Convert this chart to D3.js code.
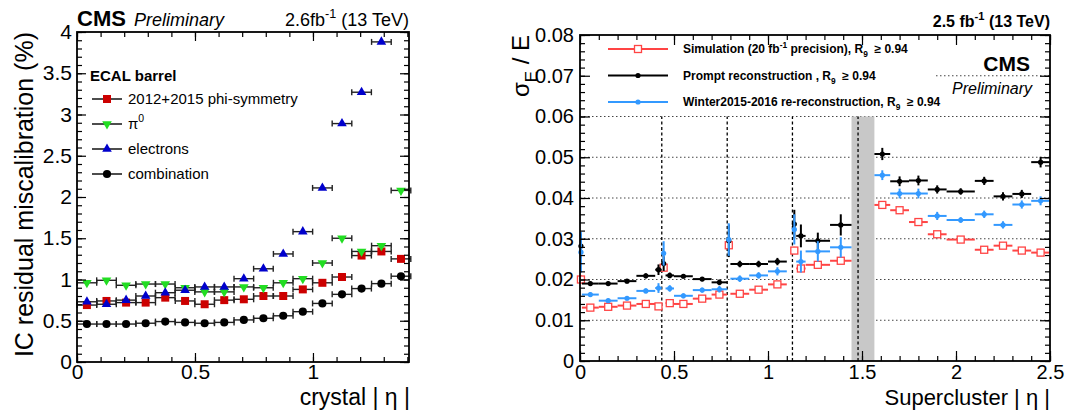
<!DOCTYPE html>
<html>
<head>
<meta charset="utf-8">
<script src="https://cdn.jsdelivr.net/npm/d3@7"></script>
<style>
  body { margin: 0; background: #fff; }
  svg { font-family: "Liberation Sans", Arial, Helvetica, sans-serif; }
</style>
</head>
<body>
<svg id="chart" width="1073" height="412"></svg>
<script>
// ---------- left panel: IC residual miscalibration vs crystal |eta| ----------
const crystalEta = [0.042, 0.125, 0.208, 0.291, 0.374, 0.458, 0.541, 0.624, 0.707,
  0.790, 0.874, 0.957, 1.040, 1.123, 1.206, 1.290, 1.373];
const crystalHalfWidth = 0.0416;
const phiSym = [0.69, 0.74, 0.72, 0.72, 0.78, 0.74, 0.70, 0.75, 0.76, 0.80, 0.80, 0.88, 0.96, 1.03, 1.29, 1.34, 1.25];
const pi0 = [0.96, 0.99, 0.93, 0.945, 0.945, 0.90, 0.85, 0.85, 0.91, 0.90, 0.96, 1.01, 1.20, 1.50, 1.34, 1.41, 2.08];
const electrons = [0.73, 0.70, 0.75, 0.80, 0.84, 0.87, 0.91, 0.91, 1.01, 1.13, 1.31, 1.58, 2.11, 2.89, 3.27, 3.88, null];
const combination = [0.46, 0.46, 0.46, 0.47, 0.49, 0.48, 0.47, 0.48, 0.51, 0.53, 0.56, 0.61, 0.71, 0.82, 0.89, 0.95, 1.04];

// ---------- right panel: energy resolution vs supercluster |eta| ----------
const binLo = [0, 0.01, 0.1, 0.2, 0.3, 0.4, 0.435, 0.455, 0.5, 0.6, 0.7, 0.783, 0.8, 0.9, 1.0, 1.13, 1.15, 1.2, 1.33,
  1.566, 1.65, 1.75, 1.85, 1.95, 2.1, 2.2, 2.3, 2.4];
const binHi = [0.01, 0.1, 0.2, 0.3, 0.4, 0.435, 0.455, 0.5, 0.6, 0.7, 0.783, 0.8, 0.9, 1.0, 1.1, 1.15, 1.2, 1.33, 1.4442,
  1.65, 1.75, 1.85, 1.95, 2.1, 2.2, 2.3, 2.4, 2.5];
const simRes = [0.0200, 0.0131, 0.0133, 0.0136, 0.0140, 0.0134, 0.0229, 0.0142, 0.0140, 0.0153, 0.0163, 0.0284, 0.0165, 0.0175, 0.0188,
  0.0271, 0.0227, 0.0236, 0.0246, 0.0383, 0.0370, 0.0341, 0.0311, 0.0298, 0.0273, 0.0283, 0.0271, 0.0266];
const simErr = [0.0010, 0.0003, 0.0003, 0.0003, 0.0003, 0.0004, 0.0008, 0.0003, 0.0003, 0.0003, 0.0003, 0.0009, 0.0003, 0.0003, 0.0003,
  0.0009, 0.0006, 0.0005, 0.0005, 0.0003, 0.0003, 0.0003, 0.0003, 0.0003, 0.0003, 0.0003, 0.0003, 0.0003];
const promptRes = [0.0282, 0.0190, 0.0190, 0.0196, 0.0209, 0.0224, 0.0239, 0.0210, 0.0208, 0.0201, 0.0193, 0.0295, 0.0238, 0.0238, 0.0244,
  0.0336, 0.0307, 0.0295, 0.0334, 0.0508, 0.0441, 0.0443, 0.0421, 0.0416, 0.0442, 0.0404, 0.0410, 0.0488];
const promptErr = [0.0030, 0.0005, 0.0005, 0.0005, 0.0006, 0.0013, 0.0018, 0.0007, 0.0005, 0.0005, 0.0007, 0.0040, 0.0008, 0.0008, 0.0009,
  0.0035, 0.0028, 0.0020, 0.0026, 0.0015, 0.0012, 0.0012, 0.0010, 0.0008, 0.0010, 0.0010, 0.0010, 0.0013];
const rerecoRes = [0.0267, 0.0163, 0.0148, 0.0154, 0.0172, 0.0179, 0.0264, 0.0178, 0.0160, 0.0174, 0.0176, 0.0298, 0.0202, 0.0210, 0.0220,
  0.0323, 0.0244, 0.0269, 0.0279, 0.0456, 0.0411, 0.0411, 0.0356, 0.0346, 0.0360, 0.0334, 0.0384, 0.0393];
const rerecoErr = [0.0050, 0.0006, 0.0005, 0.0005, 0.0006, 0.0012, 0.0030, 0.0008, 0.0006, 0.0006, 0.0008, 0.0040, 0.0008, 0.0008, 0.0010,
  0.0037, 0.0027, 0.0025, 0.0025, 0.0012, 0.0012, 0.0012, 0.0010, 0.0007, 0.0009, 0.0009, 0.0010, 0.0011];
const moduleEdges = [0.435, 0.783, 1.13, 1.479];
const ebeeGap = [1.4442, 1.566];

const svg = d3.select("#chart");

// rich text: parts = [[text, "sup"|"sub"|undefined], ...]
function richText(sel, parts, size) {
  let shift = 0;
  parts.forEach(([t, mode]) => {
    const ts = sel.append("tspan").text(t);
    let target = 0;
    if (mode === "sup") { target = -0.45 * size; ts.attr("font-size", size * 0.7); }
    if (mode === "sub") { target = 0.35 * size; ts.attr("font-size", size * 0.7); }
    ts.attr("dy", target - shift);
    shift = target;
  });
}

// ROOT-like frame with inward ticks on all four sides
function drawFrame(x, y, opt) {
  const g = svg.append("g");
  const [x0, x1] = x.range(), [y0, y1] = y.range();
  const sides = [
    { mk: () => d3.axisBottom(x), t: `translate(0,${y0})`, major: opt.xMajor, minor: opt.xMinor, labels: true, pad: opt.xPad },
    { mk: () => d3.axisTop(x), t: `translate(0,${y1})`, major: opt.xMajor, minor: opt.xMinor },
    { mk: () => d3.axisLeft(y), t: `translate(${x0},0)`, major: opt.yMajor, minor: opt.yMinor, labels: true, pad: opt.yPad },
    { mk: () => d3.axisRight(y), t: `translate(${x1},0)`, major: opt.yMajor, minor: opt.yMinor }
  ];
  sides.forEach(s => {
    g.append("g").attr("transform", s.t)
      .call(s.mk().tickValues(s.minor).tickSize(-opt.minorLen).tickFormat(""))
      .call(a => a.select(".domain").remove());
    const major = g.append("g").attr("transform", s.t)
      .call(s.mk().tickValues(s.major).tickSize(-opt.majorLen)
        .tickPadding(s.labels ? s.pad : 0)
        .tickFormat(s.labels ? d3.format("~g") : ""))
      .call(a => a.select(".domain").remove());
    major.attr("font-family", null).attr("font-size", opt.fontSize);
    major.selectAll("text").attr("fill", "#000");
  });
  g.selectAll("line").attr("stroke", "#000").attr("stroke-width", 1.2);
  g.append("rect").attr("x", x0).attr("y", y1).attr("width", x1 - x0).attr("height", y0 - y1)
    .attr("fill", "none").attr("stroke", "#000").attr("stroke-width", 1.8);
}

// ================= LEFT PANEL =================
const xL = d3.scaleLinear().domain([0, 1.407]).range([77, 409]);
const yL = d3.scaleLinear().domain([0, 4]).range([362, 32]);

const leftSeries = [
  { values: phiSym, color: "#cc0000", sym: d3.symbolSquare, size: 64, rot: 0 },
  { values: pi0, color: "#22dd22", sym: d3.symbolTriangle, size: 40, rot: 180 },
  { values: electrons, color: "#0000cc", sym: d3.symbolTriangle, size: 40, rot: 0 },
  { values: combination, color: "#000", sym: d3.symbolCircle, size: 52, rot: 0 }
];

const gL = svg.append("g");
leftSeries.forEach(s => {
  const pts = crystalEta.map((e, i) => ({ e, v: s.values[i] })).filter(d => d.v != null);
  const eb = gL.append("g").attr("stroke", "#222").attr("stroke-width", 1.4);
  eb.selectAll(null).data(pts).join("line")
    .attr("x1", d => xL(d.e - crystalHalfWidth)).attr("x2", d => xL(d.e + crystalHalfWidth))
    .attr("y1", d => yL(d.v)).attr("y2", d => yL(d.v));
  [-1, 1].forEach(sgn => {
    eb.selectAll(null).data(pts).join("line")
      .attr("x1", d => xL(d.e + sgn * crystalHalfWidth)).attr("x2", d => xL(d.e + sgn * crystalHalfWidth))
      .attr("y1", d => yL(d.v) - 3).attr("y2", d => yL(d.v) + 3);
  });
  gL.selectAll(null).data(pts).join("path")
    .attr("d", d3.symbol(s.sym, s.size))
    .attr("transform", d => `translate(${xL(d.e)},${yL(d.v)}) rotate(${s.rot})`)
    .attr("fill", s.color);
});

drawFrame(xL, yL, {
  xMajor: [0, 0.5, 1], xMinor: d3.range(0, 1.41, 0.1),
  yMajor: d3.range(0, 4.01, 0.5), yMinor: d3.range(0, 4.01, 0.1),
  majorLen: 9, minorLen: 5, fontSize: 21, xPad: 2, yPad: 5
});

// left legend
svg.append("text").attr("x", 90).attr("y", 81).attr("font-size", 15).attr("font-weight", "bold").text("ECAL barrel");
const legRowsL = [
  { s: leftSeries[0], parts: [["2012+2015 phi-symmetry"]] },
  { s: leftSeries[1], parts: [["π"], ["0", "sup"]] },
  { s: leftSeries[2], parts: [["electrons"]] },
  { s: leftSeries[3], parts: [["combination"]] }
];
legRowsL.forEach((r, i) => {
  const yy = 99 + i * 25;
  svg.append("line").attr("x1", 92).attr("x2", 122).attr("y1", yy).attr("y2", yy)
    .attr("stroke", "#000").attr("stroke-width", 1.4);
  svg.append("path").attr("d", d3.symbol(r.s.sym, r.s.size))
    .attr("transform", `translate(107,${yy}) rotate(${r.s.rot})`).attr("fill", r.s.color);
  const t = svg.append("text").attr("x", 128).attr("y", yy + 5).attr("font-size", 15);
  richText(t, r.parts, 15);
});

// left titles
svg.append("text").attr("x", 77).attr("y", 26).attr("font-size", 22).attr("font-weight", "bold").text("CMS");
svg.append("text").attr("x", 134).attr("y", 26).attr("font-size", 18).attr("font-style", "italic").text("Preliminary");
richText(svg.append("text").attr("x", 409).attr("y", 26).attr("font-size", 18).attr("text-anchor", "end"),
  [["2.6fb"], ["-1", "sup"], [" (13 TeV)"]], 18);
svg.append("text").attr("transform", "translate(33,32) rotate(-90)").attr("text-anchor", "end")
  .attr("font-size", 25).text("IC residual miscalibration (%)");
svg.append("text").attr("x", 410).attr("y", 405).attr("text-anchor", "end").attr("font-size", 23)
  .text("crystal | η |");

// ================= RIGHT PANEL =================
const xR = d3.scaleLinear().domain([0, 2.5]).range([580, 1050]);
const yR = d3.scaleLinear().domain([0, 0.08]).range([361, 35]);
const gR = svg.append("g");

// dotted horizontal grid
gR.selectAll(null).data(d3.range(0.01, 0.075, 0.01)).join("line")
  .attr("x1", xR(0)).attr("x2", xR(2.5)).attr("y1", d => yR(d)).attr("y2", d => yR(d))
  .attr("stroke", "#444").attr("stroke-width", 1).attr("stroke-dasharray", "1.5,2.5");

// EB/EE transition band
gR.append("rect").attr("x", xR(ebeeGap[0])).attr("width", xR(ebeeGap[1]) - xR(ebeeGap[0]))
  .attr("y", yR(0.06)).attr("height", yR(0) - yR(0.06)).attr("fill", "#c8c8c8");

// module boundaries
gR.selectAll(null).data(moduleEdges).join("line")
  .attr("x1", d => xR(d)).attr("x2", d => xR(d)).attr("y1", yR(0)).attr("y2", yR(0.06))
  .attr("stroke", "#000").attr("stroke-width", 1.3).attr("stroke-dasharray", "3,2.5");

const rightSeries = [
  { vals: simRes, errs: simErr, color: "#ff4444", marker: "opensq" },
  { vals: promptRes, errs: promptErr, color: "#000", marker: "dot" },
  { vals: rerecoRes, errs: rerecoErr, color: "#3399ff", marker: "dot" }
];
rightSeries.forEach(s => {
  const pts = binLo.map((lo, i) => ({ lo, hi: binHi[i], c: (lo + binHi[i]) / 2, v: s.vals[i], e: s.errs[i] }));
  const g = gR.append("g").attr("stroke", s.color).attr("stroke-width", 2);
  g.selectAll(null).data(pts).join("line")
    .attr("x1", d => xR(d.lo)).attr("x2", d => xR(d.hi)).attr("y1", d => yR(d.v)).attr("y2", d => yR(d.v));
  g.selectAll(null).data(pts).join("line")
    .attr("x1", d => xR(d.c)).attr("x2", d => xR(d.c)).attr("y1", d => yR(d.v - d.e)).attr("y2", d => yR(d.v + d.e));
  if (s.marker === "opensq") {
    g.selectAll(null).data(pts).join("rect")
      .attr("x", d => xR(d.c) - 3.5).attr("y", d => yR(d.v) - 3.5).attr("width", 7).attr("height", 7)
      .attr("fill", "#fff").attr("stroke-width", 1.3);
  } else {
    g.selectAll(null).data(pts).join("circle")
      .attr("cx", d => xR(d.c)).attr("cy", d => yR(d.v)).attr("r", 2.6)
      .attr("fill", s.color).attr("stroke", "none");
  }
});

// legend background (covers the upper grid lines)
svg.append("rect").attr("x", 581).attr("y", 36).attr("width", 355).attr("height", 76).attr("fill", "#fff");

drawFrame(xR, yR, {
  xMajor: d3.range(0, 2.51, 0.5), xMinor: d3.range(0, 2.51, 0.1),
  yMajor: d3.range(0, 0.0801, 0.01), yMinor: d3.range(0, 0.0801, 0.002),
  majorLen: 10, minorLen: 5, fontSize: 20, xPad: 4, yPad: 6
});

// right legend
const legRowsR = [
  { s: rightSeries[0], parts: [["Simulation (20 fb"], ["-1", "sup"], [" precision), R"], ["9", "sub"], ["  ≥ 0.94"]] },
  { s: rightSeries[1], parts: [["Prompt reconstruction , R"], ["9", "sub"], ["  ≥ 0.94"]] },
  { s: rightSeries[2], parts: [["Winter2015-2016 re-reconstruction, R"], ["9", "sub"], ["  ≥ 0.94"]] }
];
legRowsR.forEach((r, i) => {
  const yy = 49 + i * 26.5;
  svg.append("line").attr("x1", 608).attr("x2", 668).attr("y1", yy).attr("y2", yy)
    .attr("stroke", r.s.color).attr("stroke-width", 2);
  if (r.s.marker === "opensq") {
    svg.append("rect").attr("x", 634.5).attr("y", yy - 3.5).attr("width", 7).attr("height", 7)
      .attr("fill", "#fff").attr("stroke", r.s.color).attr("stroke-width", 1.3);
  } else {
    svg.append("circle").attr("cx", 638).attr("cy", yy).attr("r", 2.6).attr("fill", r.s.color);
  }
  const t = svg.append("text").attr("x", 683).attr("y", yy + 4).attr("font-size", 12)
    .attr("font-weight", "bold").attr("xml:space", "preserve");
  richText(t, r.parts, 12);
});

svg.append("text").attr("x", 1030).attr("y", 71).attr("text-anchor", "end").attr("font-size", 21)
  .attr("font-weight", "bold").text("CMS");
svg.append("text").attr("x", 1032).attr("y", 94).attr("text-anchor", "end").attr("font-size", 16)
  .attr("font-style", "italic").text("Preliminary");
richText(svg.append("text").attr("x", 1050).attr("y", 27).attr("font-size", 16).attr("font-weight", "bold")
  .attr("text-anchor", "end"), [["2.5 fb"], ["-1", "sup"], [" (13 TeV)"]], 16);

const yt = svg.append("text").attr("transform", "translate(529,35) rotate(-90)").attr("text-anchor", "end")
  .attr("font-size", 24);
richText(yt, [["σ"], ["E", "sub"], [" / E"]], 24);
svg.append("text").attr("x", 1050).attr("y", 405).attr("text-anchor", "end").attr("font-size", 22)
  .text("Supercluster | η |");
</script>
</body>
</html>
